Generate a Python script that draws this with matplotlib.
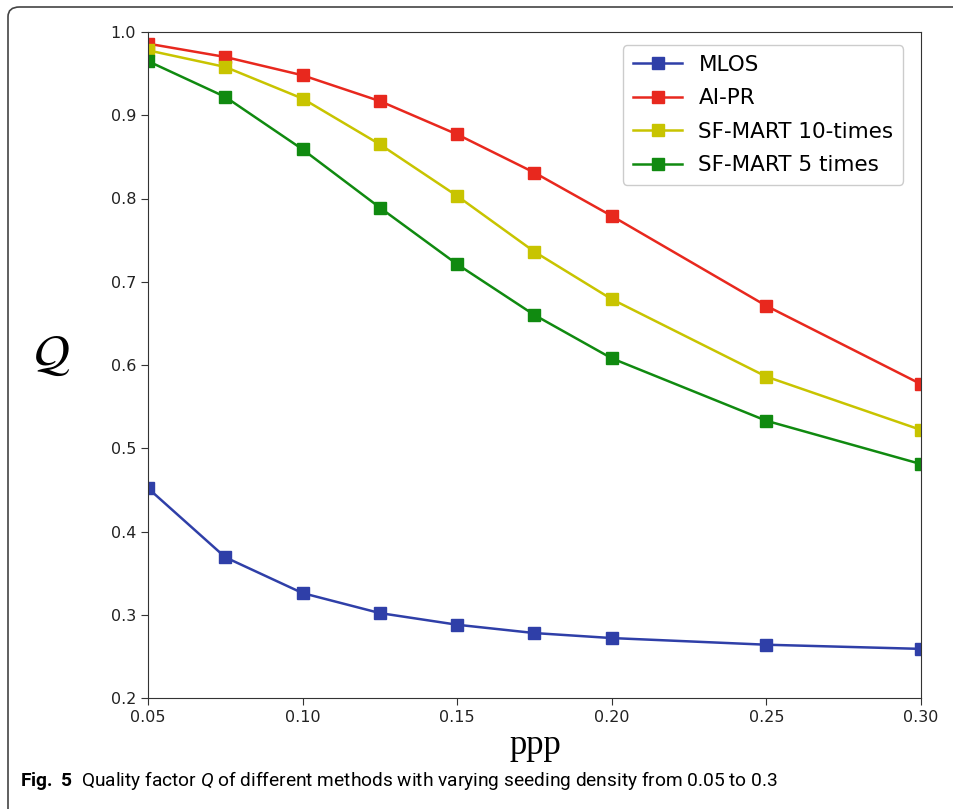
import numpy as np
from matplotlib import pyplot as plt
from matplotlib.patches import FancyBboxPatch

# data
ppp = [0.05, 0.075, 0.10, 0.125, 0.15, 0.175, 0.20, 0.25, 0.30]
q_mlos = [0.452, 0.369, 0.326, 0.302, 0.288, 0.278, 0.272, 0.264, 0.259]
q_aipr = [0.986, 0.970, 0.948, 0.917, 0.877, 0.831, 0.779, 0.671, 0.577]
q_sf10 = [0.978, 0.958, 0.920, 0.865, 0.803, 0.736, 0.679, 0.586, 0.522]
q_sf5 = [0.965, 0.922, 0.859, 0.789, 0.721, 0.660, 0.608, 0.533, 0.481]
labels = ['MLOS', 'AI-PR', 'SF-MART 10-times', 'SF-MART 5 times']
colors = ['#2f3fa8', '#e8281e', '#c8c400', '#108a10']
xticks = [0.05, 0.10, 0.15, 0.20, 0.25, 0.30]
yticks = [0.2, 0.3, 0.4, 0.5, 0.6, 0.7, 0.8, 0.9, 1.0]

cap_font = 'Roboto'
plt.rcParams['mathtext.fontset'] = 'custom'
plt.rcParams['mathtext.rm'] = cap_font
plt.rcParams['mathtext.bf'] = cap_font + ':bold'
plt.rcParams['mathtext.it'] = cap_font + ':italic'

fig = plt.figure(figsize=(9.54, 8.09), dpi=100)
ax = fig.add_axes([148/954, 1-698/809, (921-148)/954, (698-32)/809])

for y, lab, c in zip([q_mlos, q_aipr, q_sf10, q_sf5], labels, colors):
    ax.plot(ppp, y, marker='s', color=c, linewidth=1.8, markersize=8.5, label=lab)

ax.set_xlim(0.05, 0.30)
ax.set_ylim(0.2, 1.0)
ax.set_xticks(xticks)
ax.set_yticks(yticks)
ax.set_xticklabels(['%.2f' % v for v in xticks])
ax.set_yticklabels(['%.1f' % v for v in yticks])
ax.tick_params(labelsize=11.5, length=5, color='#333333', labelcolor='#222222')
for s in ax.spines.values():
    s.set_color('#333333')

ax.legend(loc='upper right', bbox_to_anchor=(0.977, 0.98), fontsize=15.5,
          borderaxespad=0, framealpha=1, edgecolor='#cccccc',
          handlelength=2.3, handletextpad=0.75, labelspacing=0.62, borderpad=0.45)

fig.text(535/954, 1-745/809, 'ppp', family='Liberation Serif', fontsize=25,
         ha='center', va='center')
fig.text(52/954, 1-356/809, r'$\mathcal{Q}$', math_fontfamily='stix', fontsize=36,
         ha='center', va='center')

# caption, sized to the width it has in the original
cap = fig.text(20/954, 1-781/809,
               r'$\mathbf{Fig.\ 5}$  Quality factor $\mathit{Q}$ of different methods with varying seeding density from 0.05 to 0.3',
               family=cap_font, fontsize=14, ha='left', va='center', math_fontfamily='custom')
fig.canvas.draw()
w = cap.get_window_extent().width
cap.set_fontsize(14 * 763 / w)

# border of the figure panel
fig.patches.append(FancyBboxPatch((8/954, -10/809), 970/954, 812/809,
                                  boxstyle='round,pad=0,rounding_size=0.012',
                                  transform=fig.transFigure, fill=False,
                                  edgecolor='#444444', linewidth=1.2))

plt.savefig('out.png', dpi=100)
